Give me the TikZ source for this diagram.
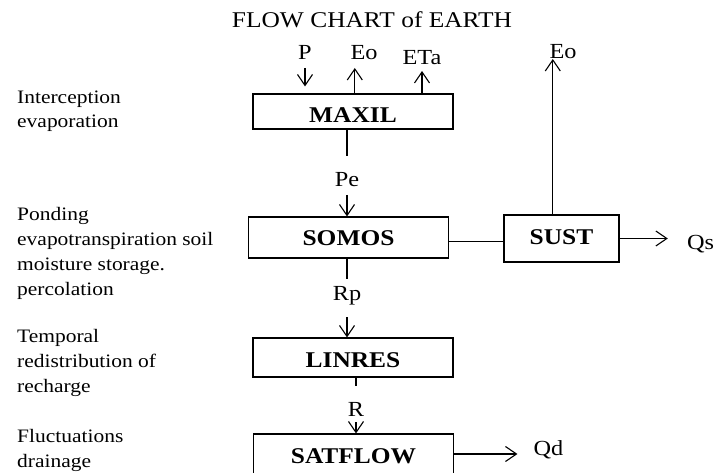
\documentclass[tikz,border=0pt]{standalone}
\usepackage{fontspec}
\setmainfont{Liberation Serif}[FakeStretch=1.13]
\usetikzlibrary{arrows.meta}
\tikzset{module/.style={draw, line width=1.1pt, inner sep=0pt, minimum width=#1, text height=29pt, anchor=base, font=\fontsize{22.5}{27}\selectfont\bfseries}}
\tikzset{module/.default=200pt}
\tikzset{tag/.style={inner sep=0pt, anchor=base, font=\fontsize{21.5}{26}\selectfont}}
\tikzset{note/.style={inner sep=0pt, anchor=base west, align=left, font=\fontsize{19}{24.7}\selectfont}}
\tikzset{link/.style={line width=1.1pt}}
\tikzset{flow/.style={link, -{Straight Barb[length=11pt, width=15pt]}}}

\begin{document}
\begin{tikzpicture}[x=1pt, y=-1pt]
            \useasboundingbox (0, 0) rectangle (715, 473);
            \node[tag, font=\fontsize{22.5}{27}\selectfont] (title) at (372, 28) {FLOW CHART of EARTH};

            \node[module, text depth=6pt] (maxil) at (353, 123) {MAXIL};
            \node[module, text depth=12pt] (somos) at (348.5, 246) {SOMOS};
            \node[module=115pt, text depth=18pt] (sust) at (561.5, 244) {SUST};
            \node[module, text depth=10pt] (linres) at (353, 367) {LINRES};
            \node[module, text depth=11pt] (satflow) at (353.5, 463) {SATFLOW};

            \node[tag] (p) at (305, 60) {P};
            \node[tag] (eoA) at (364, 60) {Eo};
            \node[tag] (eta) at (422, 65) {ETa};
            \node[tag] (eoB) at (563, 59) {Eo};
            \node[tag] (pe) at (347, 187) {Pe};
            \node[tag] (rp) at (347, 300) {Rp};
            \node[tag] (r) at (356, 416) {R};
            \node[tag] (qs) at (700.5, 250) {Qs};
            \node[tag] (qd) at (548.5, 455) {Qd};

            \node[note] (interc) at (17, 128) {Interception\\evaporation};
            \node[note] (pond) at (17, 295) {Ponding\\evapotranspiration soil\\moisture storage.\\percolation};
            \node[note] (temp) at (17, 392) {Temporal\\redistribution of\\recharge};
            \node[note] (fluct) at (17, 467.5) {Fluctuations\\drainage};

            \coordinate (eoA tip) at ([xshift=4.5pt, yshift=-8pt]eoA.base west);
            \coordinate (eoB tip) at ([xshift=3.5pt]eoB.base west);
            \coordinate (tie) at ([yshift=-4pt]somos.east);

            \draw[flow, shorten >=7pt] ([yshift=-8pt]p.base) -- (p.base |- maxil.north);
            \draw[flow] (eoA tip |- maxil.north) -- (eoA tip);
            \draw[flow] (eta.base |- maxil.north) -- ([yshift=-6pt]eta.base);
            \draw[flow] (eoB tip |- sust.north) -- (eoB tip);
            \draw[link] (pe.base |- maxil.south) -- ([yshift=17pt]pe.north);
            \draw[flow] ([yshift=-8pt]pe.base) -- (pe.base |- somos.north);
            \draw[link] (tie) -- (tie -| sust.west);
            \draw[flow, shorten >=19pt] (sust.east) -- (sust.east -| qs.west);
            \draw[link] (rp.base |- somos.south) -- ([yshift=7pt]rp.north);
            \draw[flow] ([yshift=-17pt]rp.base) -- (rp.base |- linres.north);
            \draw[link] (r.base |- linres.south) -- ([yshift=16pt]r.north);
            \draw[flow] ([yshift=-6pt]r.base) -- (r.base |- satflow.north);
            \draw[flow, shorten >=16pt] (satflow.east) -- (satflow.east -| qd.west);
        \end{tikzpicture}
\end{document}
